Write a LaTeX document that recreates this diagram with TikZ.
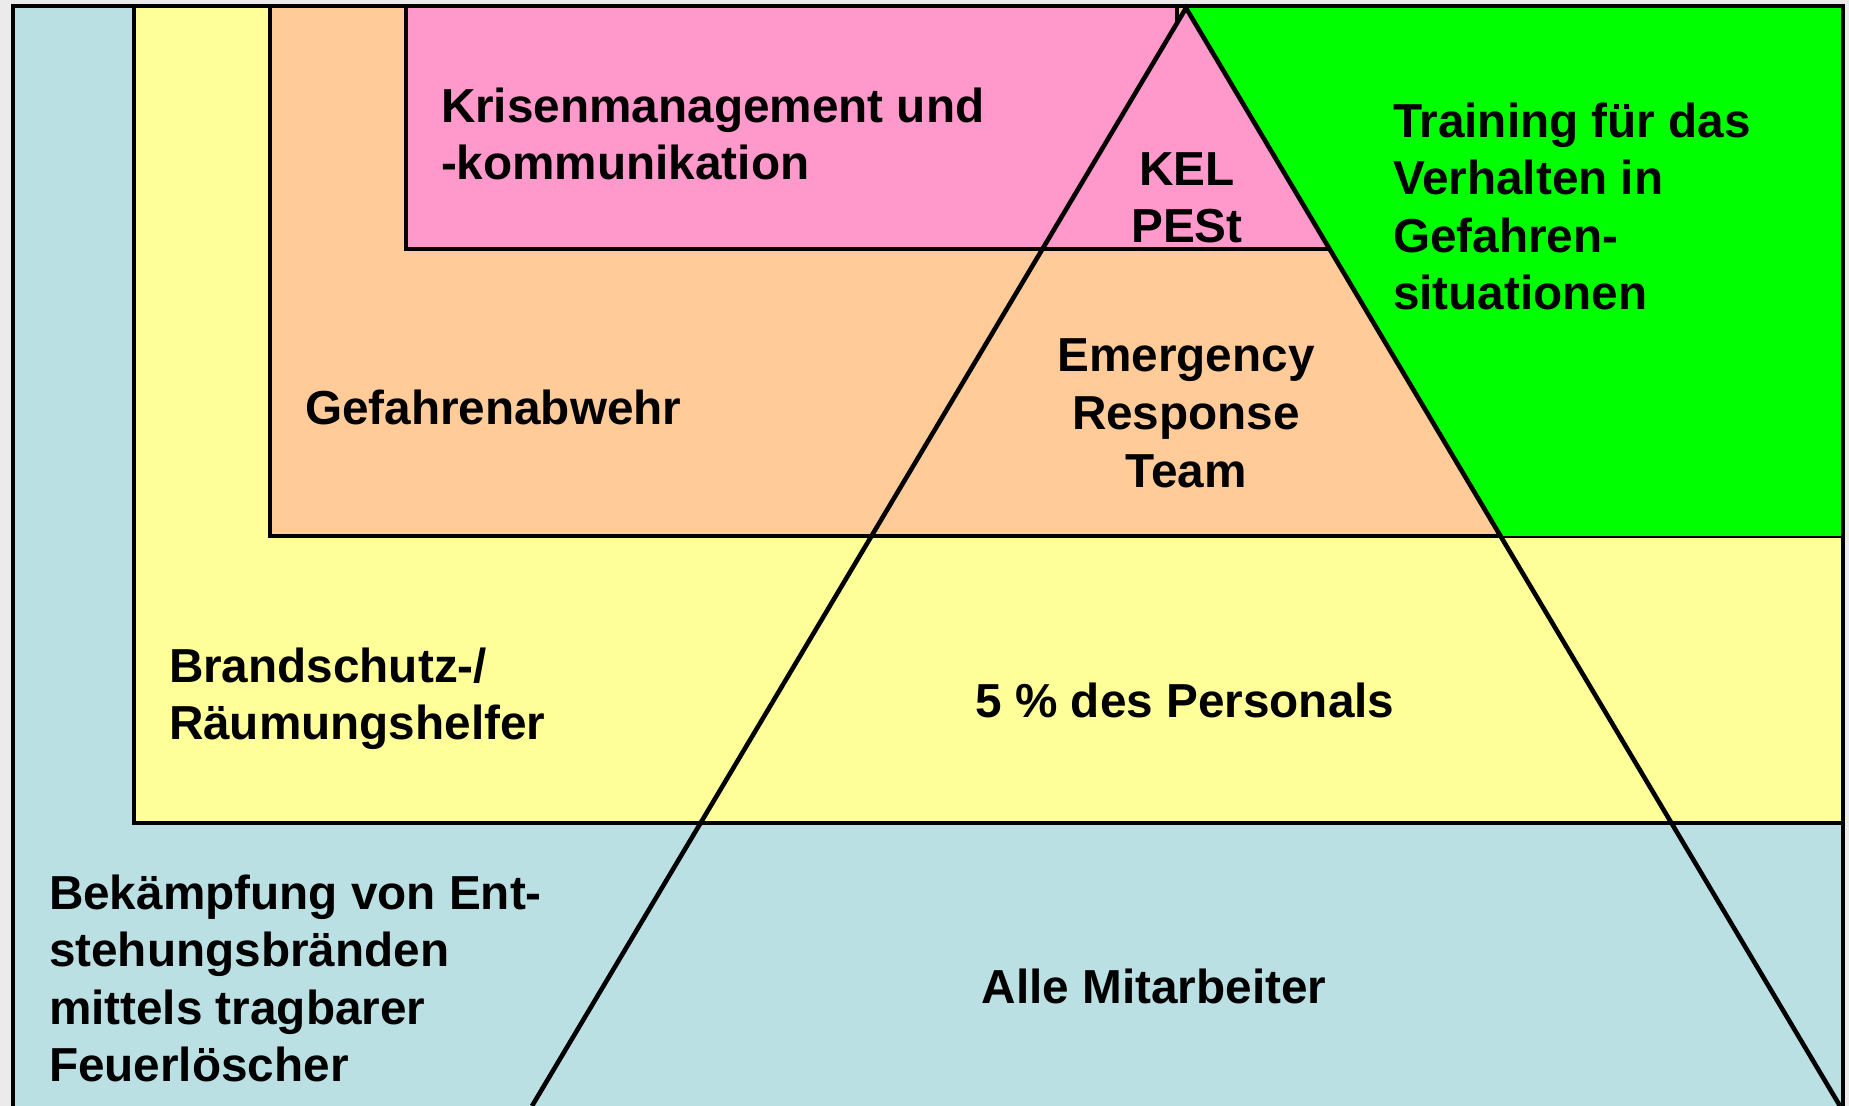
\documentclass[tikz,border=0pt]{standalone}
\usepackage{fontspec}
\setmainfont{Liberation Sans}
\definecolor{bgray}{HTML}{EBEBEB}
\definecolor{lblue}{HTML}{BBE0E3}
\definecolor{lyellow}{HTML}{FFFF99}
\definecolor{lorange}{HTML}{FFCC99}
\definecolor{lpink}{HTML}{FF99CC}
\definecolor{lgreen}{HTML}{00FF00}
\begin{document}
\begin{tikzpicture}[x=0.5pt,y=-0.5pt,
  frame/.style={draw=black,line width=2.3pt},
  lbl/.style={inner sep=0pt,outer sep=0pt,font=\fontsize{23.85pt}{28.75pt}\selectfont\bfseries},
  lw/.style={lbl,anchor=base west},
  lc/.style={lbl,anchor=base}]
\useasboundingbox (0,0) rectangle (1849,1106);
\clip (0,0) rectangle (1849,1106);
\fill[bgray] (0,0) rectangle (1849,1106);
% layered boxes
\filldraw[frame,fill=lblue] (13,6) rectangle (1843,1140);
\filldraw[frame,fill=lyellow] (134,6) rectangle (1843,823);
\filldraw[frame,fill=lorange] (270,6) rectangle (1843,536);
\fill[lgreen] (1186,6) rectangle (1843,536);
\filldraw[frame,fill=lpink] (406,6) rectangle (1177,249);
% pyramid
\coordinate (apex) at (1186,8);
\coordinate (bl) at (532,1106);
\coordinate (br) at (1840,1106);
\begin{scope}
  \clip (apex) -- (bl) -- (br) -- cycle;
  \fill[lpink] (0,0) rectangle (1849,249);
  \fill[lorange] (0,249) rectangle (1849,536);
  \fill[lyellow] (0,536) rectangle (1849,823);
  \fill[lblue] (0,823) rectangle (1849,1106);
  \draw[frame] (0,249) -- (1849,249);
  \draw[frame] (0,536) -- (1849,536);
  \draw[frame] (0,823) -- (1849,823);
\end{scope}
\draw[frame] (bl) -- (apex) -- (br);
\draw[frame] (13,6) -- (1843,6);
\draw[frame] (1843,6) -- (1843,1110);
% texts
\node[lw] (kr1) at (441,123) {Krisenmanagement und};
\node[lw] (kr2) at (441,180) {-kommunikation};
\node[lw] (ga) at (305,425) {Gefahrenabwehr};
\node[lw] (bs1) at (169,683) {Brandschutz-/};
\node[lw] (bs2) at (169,740) {Räumungshelfer};
\node[lw] (bk1) at (49,909) {Bekämpfung von Ent-};
\node[lw] (bk2) at (49,966) {stehungsbränden};
\node[lw] (bk3) at (49,1024) {mittels tragbarer};
\node[lw] (bk4) at (49,1081) {Feuerlöscher};
\node[lw] (tr1) at (1393,138) {Training für das};
\node[lw] (tr2) at (1393,195) {Verhalten in};
\node[lw] (tr3) at (1393,253) {Gefahren-};
\node[lw] (tr4) at (1393,310) {situationen};
\node[lc] (kel) at (1187,186) {KEL};
\node[lc] (pest) at (1187,243) {PESt};
\node[lc] (er1) at (1186,372) {Emergency};
\node[lc] (er2) at (1186,430) {Response};
\node[lc] (er3) at (1186,488) {Team};
\node[lc] (pct) at (1185,718) {5 \% des Personals};
\node[lc] (all) at (1154,1003) {Alle Mitarbeiter};
\end{tikzpicture}
\end{document}
